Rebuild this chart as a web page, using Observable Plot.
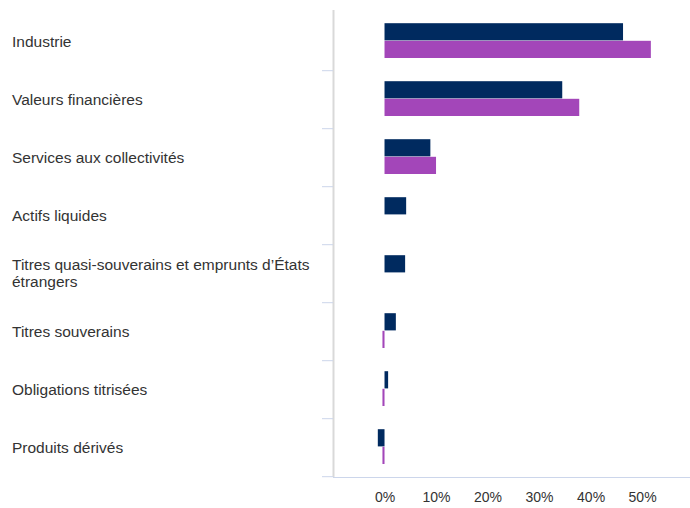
<!DOCTYPE html>
<html>
<head>
<meta charset="utf-8">
<script src="https://cdn.jsdelivr.net/npm/d3@7"></script>
<script src="https://cdn.jsdelivr.net/npm/@observablehq/plot@0.6"></script>
<style>
  html, body { margin: 0; padding: 0; background: #fff; }
  #chart { width: 690px; height: 508px; }
</style>
</head>
<body>
<div id="chart"></div>
<script>
const categories = [
  "Industrie",
  "Valeurs financières",
  "Services aux collectivités",
  "Actifs liquides",
  "Titres quasi-souverains et emprunts d’États étrangers",
  "Titres souverains",
  "Obligations titrisées",
  "Produits dérivés"
];
const seriesA = [46.3, 34.5, 8.9, 4.2, 4.0, 2.2, 0.7, -1.3];   // navy
const seriesB = [51.7, 37.8, 10.0, 0, 0, -0.4, -0.4, -0.4];  // purple
const xTicks = [0, 10, 20, 30, 40, 50];

const colorA = "#002a5f";
const colorB = "#a346b9";

const dataA = categories.map((c, i) => ({cat: c, v: seriesA[i]}));
const dataB = categories.map((c, i) => ({cat: c, v: seriesB[i]}));

const labelFormat = d => d === "Titres quasi-souverains et emprunts d’États étrangers"
  ? "Titres quasi-souverains et emprunts d’États\nétrangers" : d;

const chart = Plot.plot({
  width: 690,
  height: 508,
  marginLeft: 333,
  marginRight: 0,
  marginTop: 10,
  marginBottom: 31,
  style: {fontFamily: "'Liberation Sans', Arial, sans-serif", background: "#fff"},
  x: {domain: [-10, 59.3], ticks: xTicks, tickFormat: d => d + "%"},
  y: {domain: categories, padding: 0, label: null},
  marks: [
    Plot.barX(dataA, {y: "cat", x1: 0, x2: "v", fill: colorA, insetTop: 11.2, insetBottom: 29.6}),
    Plot.barX(dataB, {y: "cat", x1: 0, x2: "v", fill: colorB, insetTop: 28.8, insetBottom: 12}),
    Plot.ruleX([-10], {stroke: "#d9d9d9", strokeWidth: 2}),
    Plot.frame({anchor: "bottom", stroke: "#ccd6eb"}),
    Plot.axisY({tickSize: 11, tickFormat: () => "", stroke: "#ccd6eb", dy: 29.2, label: null}),
    Plot.axisY({tickSize: 0, tickPadding: 0, textAnchor: "start", dx: -321.5, label: null,
      tickFormat: labelFormat, fontSize: 15.5, fill: "#333", lineHeight: 1.1, lineWidth: 100}),
    Plot.axisX({ticks: xTicks, tickFormat: d => d + "%", tickSize: 0, tickPadding: 15,
      fontSize: 14, fill: "#333", label: null})
  ]
});
document.getElementById("chart").appendChild(chart);
</script>
</body>
</html>
